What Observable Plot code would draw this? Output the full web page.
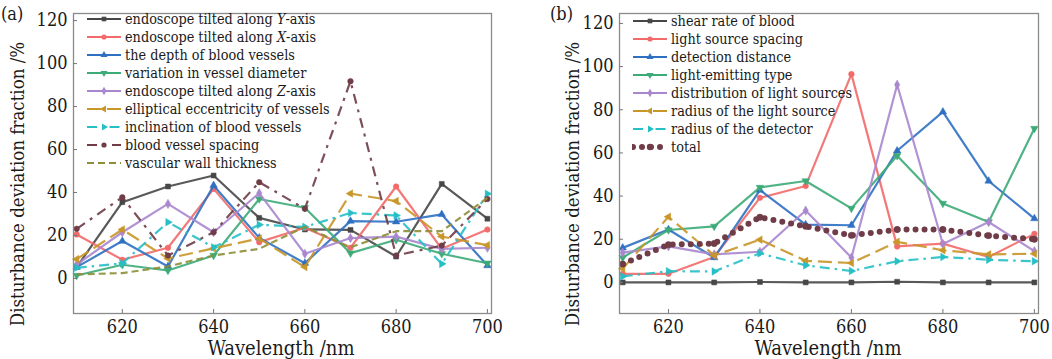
<!DOCTYPE html>
<html><head><meta charset="utf-8">
<script src="https://cdn.jsdelivr.net/npm/d3@7"></script>
<script src="https://cdn.jsdelivr.net/npm/@observablehq/plot@0.6"></script>
<style>
body{margin:0;background:#fff;}
#wrap{position:relative;width:1052px;height:359px;overflow:hidden;font-family:"DejaVu Serif Condensed","DejaVu Serif",serif;font-stretch:condensed;color:#1a1a1a;}
.panel{position:absolute;top:0;}
.lab{position:absolute;white-space:nowrap;line-height:1;}
.ylab{position:absolute;white-space:nowrap;line-height:1;font-size:18.5px;transform:translate(-50%,-50%) rotate(-90deg);}
.xlab{position:absolute;white-space:nowrap;line-height:1;font-size:20px;transform:translateX(-50%);}
.row{position:absolute;height:18px;display:flex;align-items:center;white-space:nowrap;font-size:14.3px;}
.row svg{margin-right:3px;}
</style></head><body><div id="wrap"></div>
<script>
// ---------- data ----------
const wavelengths = [610, 620, 630, 640, 650, 660, 670, 680, 690, 700];
const xTicks = [620, 640, 660, 680, 700];
const yTicks = [0, 20, 40, 60, 80, 100, 120];

// panel (a)
const aNames = ["endoscope tilted along <i>Y</i>-axis", "endoscope tilted along <i>X</i>-axis", "the depth of blood vessels",
  "variation in vessel diameter", "endoscope tilted along <i>Z</i>-axis", "elliptical eccentricity of vessels",
  "inclination of blood vessels", "blood vessel spacing", "vascular wall thickness"];
const aTiltY        = [5.3, 35.5, 42.8, 47.9, 28.2, 22.8, 22.6, 10.2, 44.0, 27.8];
const aTiltX        = [20.5, 8.7, 14.3, 41.7, 16.9, 23.6, 14.3, 42.8, 13.8, 22.8];
const aDepth        = [5.3, 17.4, 5.6, 43.3, 18.9, 7.1, 26.7, 26.4, 29.8, 6.0];
const aDiameter     = [1.4, 6.4, 3.7, 10.7, 37.0, 32.9, 11.8, 18.0, 11.5, 7.1];
const aTiltZ        = [6.5, 21.5, 34.7, 21.5, 39.7, 11.5, 18.8, 19.5, 13.8, 14.3];
const aEccentricity = [9.0, 22.8, 9.3, 14.0, 18.6, 5.3, 39.5, 36.0, 19.5, 15.5];
const aInclination  = [5.0, 7.0, 26.2, 14.5, 25.0, 24.0, 30.5, 29.3, 6.8, 39.4];
const aSpacing      = [23.1, 37.8, 10.7, 21.5, 44.8, 32.4, 91.8, 10.7, 15.3, 37.0];
const aWall         = [1.9, 2.5, 5.6, 10.7, 13.8, 24.0, 14.5, 22.0, 22.0, 37.5];

// panel (b)
const bNames = ["shear rate of blood", "light source spacing", "detection distance", "light-emitting type",
  "distribution of light sources", "radius of the light source", "radius of the detector", "total"];
const bShear          = [0, 0, 0, 0.2, 0, 0, 0.3, 0, 0, 0];
const bLightSpacing   = [4.0, 4.0, 11.8, 39.2, 44.7, 96.5, 16.7, 18.0, 11.8, 22.5];
const bDetection      = [16.0, 24.5, 11.5, 42.8, 26.8, 26.5, 61.0, 79.0, 47.0, 29.6];
const bEmitting       = [11.5, 24.3, 26.0, 44.0, 47.0, 34.3, 58.7, 36.6, 28.0, 71.3];
const bDistribution   = [13.8, 16.7, 13.0, 14.2, 33.3, 11.5, 91.6, 17.8, 28.0, 14.5];
const bSourceRadius   = [6.4, 30.4, 12.5, 19.8, 10.0, 9.0, 18.8, 14.9, 13.0, 13.3];
const bDetectorRadius = [2.8, 5.2, 5.1, 13.5, 7.9, 5.3, 9.8, 11.8, 10.5, 9.8];
const bTotal          = [8.5, 17.5, 18.0, 30.2, 26.0, 21.8, 24.5, 24.5, 21.7, 20.0];

// ---------- styles ----------
const tri = a0 => ({draw(ctx, size) {
  const R = Math.sqrt(4 * size / Math.sqrt(3)) / Math.sqrt(3);
  for (let i = 0; i < 3; i++) {
    const t = (a0 + 120 * i) * Math.PI / 180;
    const x = R * Math.cos(t), y = R * Math.sin(t);
    i ? ctx.lineTo(x, y) : ctx.moveTo(x, y);
  }
  ctx.closePath();
}});
const SYM = {square: d3.symbolSquare, circle: d3.symbolCircle, up: tri(-90), down: tri(90), diamond: d3.symbolDiamond, left: tri(180), right: tri(0)};
const C = {black: "#474747", red: "#f26a6a", blue: "#2f70c2", green: "#3dab78", purple: "#a987cf", gold: "#c99628", cyan: "#26bfc6", brown: "#6f3c47", olive: "#8e8e38"};

const aSeries = [
  {values: aTiltY, color: C.black, sym: "square", dash: null},
  {values: aTiltX, color: C.red, sym: "circle", dash: null},
  {values: aDepth, color: C.blue, sym: "up", dash: null},
  {values: aDiameter, color: C.green, sym: "down", dash: null},
  {values: aTiltZ, color: C.purple, sym: "diamond", dash: null},
  {values: aEccentricity, color: C.gold, sym: "left", dash: "14,6"},
  {values: aInclination, color: C.cyan, sym: "right", dash: "10,5,2.5,5"},
  {values: aSpacing, color: C.brown, sym: "circle", dash: "10,6,3,6"},
  {values: aWall, color: C.olive, sym: null, dash: "7,4"}
].map((s, i) => ({...s, name: aNames[i]}));

const bSeries = [
  {values: bShear, color: C.black, sym: "square", dash: null},
  {values: bLightSpacing, color: C.red, sym: "circle", dash: null},
  {values: bDetection, color: C.blue, sym: "up", dash: null},
  {values: bEmitting, color: C.green, sym: "down", dash: null},
  {values: bDistribution, color: C.purple, sym: "diamond", dash: null},
  {values: bSourceRadius, color: C.gold, sym: "left", dash: "14,6"},
  {values: bDetectorRadius, color: C.cyan, sym: "right", dash: "10,5,2.5,5"},
  {values: bTotal, color: C.brown, sym: "circle", dash: "0,9", width: 6, total: true}
].map((s, i) => ({...s, name: bNames[i]}));

// ---------- chart ----------
const W = 526, H = 359, MT = 13, MB = 46;
function panel(series, yDomain, ml, mr) {
  const plotW = W - ml - mr, plotH = H - MT - MB;
  const marks = [];
  series.forEach(s => {
    const rows = wavelengths.map((w, j) => ({w, v: s.values[j]}));
    marks.push(Plot.line(rows, {x: "w", y: "v", stroke: s.color, strokeWidth: s.width || 2.2,
      strokeOpacity: s.total ? 1 : 0.9, strokeDasharray: s.dash, strokeLinecap: s.total ? "round" : "butt",
      strokeLinejoin: "round"}));
    if (s.sym) marks.push(Plot.dot(rows, {x: "w", y: "v", symbol: SYM[s.sym], r: s.total ? 3.2 : 2.8,
      fill: s.color, stroke: s.color, strokeWidth: 0.5}));
  });
  marks.push(Plot.frame({stroke: "#8a8a8a", strokeWidth: 1.3}));
  marks.push(Plot.tickY(yTicks, {stroke: "#777", insetRight: plotW - 4}));
  marks.push(Plot.tickX(xTicks, {stroke: "#777", insetTop: plotH - 4}));
  marks.push(Plot.axisY(yTicks, {tickSize: 0, tickPadding: 6, label: null}));
  marks.push(Plot.axisX(xTicks, {tickSize: 0, tickPadding: 7, label: null}));
  return Plot.plot({
    width: W, height: H, marginLeft: ml, marginRight: mr, marginTop: MT, marginBottom: MB,
    style: {fontFamily: '"DejaVu Serif Condensed","DejaVu Serif",serif', fontStretch: "condensed", fontSize: "18px", color: "#1a1a1a", background: "transparent", overflow: "visible"},
    x: {domain: [609.3, 700.9], ticks: xTicks, tickFormat: d => String(d)},
    y: {domain: yDomain, ticks: yTicks},
    marks
  });
}

const wrap = document.getElementById("wrap");
function place(el, left) { el.classList.add("panel"); el.style.left = left + "px"; wrap.appendChild(el); }
place(panel(aSeries, [-16.3, 123.3], 73, 35), 0);
place(panel(bSeries, [-14.4, 124.6], 93, 14), 526);

function lab(cls, html, left, top, extra) {
  const d = document.createElement("div");
  d.className = cls; d.innerHTML = html; d.style.left = left + "px"; d.style.top = top + "px";
  if (extra) Object.assign(d.style, extra);
  wrap.appendChild(d); return d;
}
lab("lab", "(a)", 1, 5, {fontSize: "18px"});
lab("lab", "(b)", 550, 5, {fontSize: "18px"});
lab("ylab", "Disturbance deviation fraction /%", 18, 184);
lab("ylab", "Disturbance deviation fraction /%", 573, 184);
lab("xlab", "Wavelength /nm", 281, 338);
lab("xlab", "Wavelength /nm", 828, 338);

function legend(series, x0, y0) {
  series.forEach((s, i) => {
    const row = document.createElement("div");
    row.className = "row";
    row.style.left = x0 + "px"; row.style.top = (y0 + i * 18.05 - 9) + "px";
    const svg = d3.create("svg").attr("width", 36).attr("height", 14);
    svg.append("line").attr("x1", 1).attr("x2", 35).attr("y1", 7).attr("y2", 7)
      .attr("stroke", s.color).attr("stroke-width", s.width || 2.2)
      .attr("stroke-dasharray", s.dash).attr("stroke-linecap", s.total ? "round" : "butt");
    if (s.sym) svg.append("path").attr("transform", "translate(18,7)")
      .attr("d", d3.symbol(SYM[s.sym], Math.PI * (s.total ? 3.2 : 2.6) ** 2)()).attr("fill", s.color);
    row.appendChild(svg.node());
    const t = document.createElement("span"); t.innerHTML = s.name; row.appendChild(t);
    wrap.appendChild(row);
  });
}
legend(aSeries, 86, 19);
legend(bSeries, 632, 21);
</script></body></html>
